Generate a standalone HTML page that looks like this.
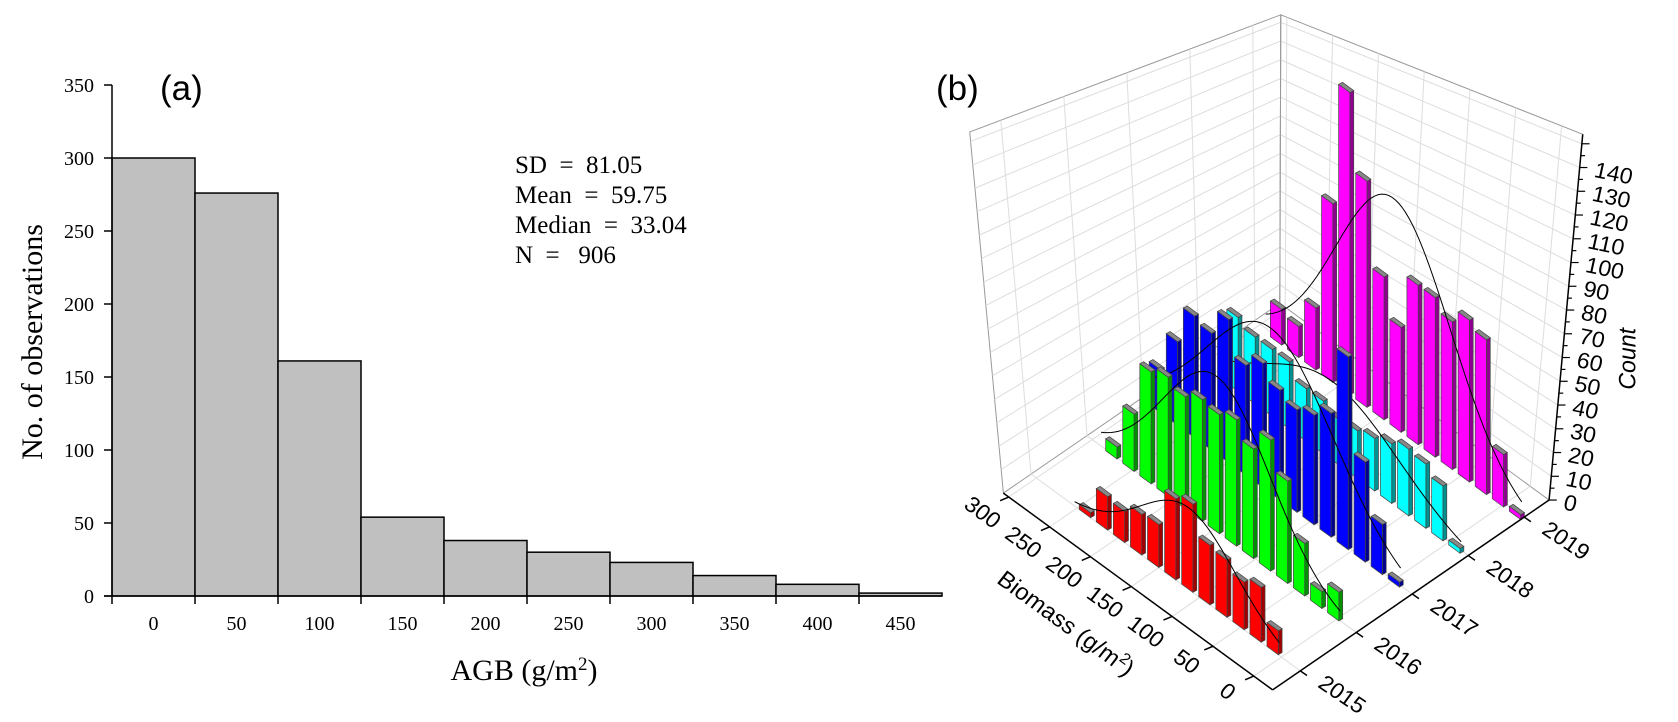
<!DOCTYPE html>
<html><head><meta charset="utf-8"><style>
html,body{margin:0;padding:0;background:#fff;}
svg{display:block;}
.ser{font-family:"Liberation Serif",serif;}
.sans{font-family:"Liberation Sans",sans-serif;}
</style></head><body>
<svg id="chart" width="1678" height="722" viewBox="0 0 1678 722" xmlns="http://www.w3.org/2000/svg">
<g id="pa"></g>
<g id="pb" transform="translate(900,0) scale(0.4808,0.463)"></g>
<text x="160" y="100" class="sans" font-size="35">(a)</text>
<text x="936" y="100" class="sans" font-size="35">(b)</text>
<text class="ser" font-size="30" transform="translate(42,342) rotate(-90)" text-anchor="middle">No. of  observations</text>
<text class="ser" font-size="30" x="524" y="680" text-anchor="middle">AGB (g/m<tspan baseline-shift="super" font-size="19">2</tspan>)</text>
<g class="ser" font-size="25">
<text x="515" y="173">SD &#160;= &#160;81.05</text>
<text x="515" y="203">Mean &#160;= &#160;59.75</text>
<text x="515" y="233">Median &#160;= &#160;33.04</text>
<text x="515" y="263">N &#160;= &#160; 906</text>
</g>
</svg>
<script>
// ---------- Panel (a) data ----------
const aglBins = [0,50,100,150,200,250,300,350,400,450];
const aglCounts = [300,276,161,54,38,30,23,14,8,2];
const aglYTicks = [0,50,100,150,200,250,300,350];

// ---------- Panel (b) data ----------
const bioBins = [290,270,250,230,210,190,170,150,130,110,90,70,50,30,10];
const years = ['2015','2016','2017','2018','2019'];
const cnt2015 = [0,0,0,2,14,13,17,18,34,37,25,24,20,23,10];
const cnt2016 = [0,5,24,47,50,47,51,50,53,46,55,43,22,7,12];
const cnt2017 = [18,35,51,49,60,46,52,46,43,46,52,81,42,21,2];
const cnt2018 = [0,31,28,28,28,22,22,19,20,22,25,28,27,23,2];
const cnt2019 = [15,13,26,75,127,95,60,44,67,67,62,68,65,22,2];
const bioTicks = [0,50,100,150,200,250,300];
const countTicks = [0,10,20,30,40,50,60,70,80,90,100,110,120,130,140];

const NS='http://www.w3.org/2000/svg';
function mk(parent,tag,attrs){const e=document.createElementNS(NS,tag);for(const k in attrs)e.setAttribute(k,attrs[k]);parent.appendChild(e);return e;}

// ---------- Panel (a) ----------
const pa=document.getElementById('pa');
const ax=v=>112+(v+25)*1.66;
const ay=c=>596-c*1.46;
aglBins.forEach((b,i)=>{
  const r=mk(pa,'rect',{x:ax(b-25),y:ay(aglCounts[i]),width:ax(b+25)-ax(b-25),height:596-ay(aglCounts[i]),fill:'#c0c0c0',stroke:'#000','stroke-width':1.5});
  
  
});
let l=mk(pa,'line',{x1:112,y1:ay(350),x2:112,y2:596,stroke:'#000','stroke-width':1.5});


l=mk(pa,'line',{x1:104,y1:596,x2:ax(475),y2:596,stroke:'#000','stroke-width':1.5});


aglYTicks.forEach(t=>{
  mk(pa,'line',{x1:104,y1:ay(t),x2:112,y2:ay(t),stroke:'#000','stroke-width':1.5});
  const tx=mk(pa,'text',{x:94,y:ay(t)+7,'text-anchor':'end','font-size':20,'font-family':'Liberation Serif, serif'});
  tx.textContent=t;
  
  
});
aglBins.forEach(b=>{
  mk(pa,'line',{x1:ax(b-25),y1:596,x2:ax(b-25),y2:604,stroke:'#000','stroke-width':1.5});
  const tx=mk(pa,'text',{x:ax(b),y:630,'text-anchor':'middle','font-size':20,'font-family':'Liberation Serif, serif'});
  tx.textContent=b;
  
  
});

// ---------- Panel (b) ----------
const pb=document.getElementById('pb');
const L=[215,1065],F=[775,1490],R=[1350,1080],TL=[145,285],TR=[1420,290],TB=[792,32];
const B=[L[0]+R[0]-F[0],L[1]+R[1]-F[1]];
const upL=[TL[0]-L[0],TL[1]-L[1]],upB=[TB[0]-B[0],TB[1]-B[1]],upR=[TR[0]-R[0],TR[1]-R[1]];
const CMAX=154;
const lerp=(a,b,t)=>[a[0]+(b[0]-a[0])*t,a[1]+(b[1]-a[1])*t];
function floorPt(s,t){return [L[0]+s*(F[0]-L[0])+t*(R[0]-F[0]),L[1]+s*(F[1]-L[1])+t*(R[1]-F[1])];}
function leftWall(t,c){const p=floorPt(0,t),u=lerp(upL,upB,t),h=c/CMAX;return [p[0]+u[0]*h,p[1]+u[1]*h];}
function rightWall(s,c){const p=floorPt(s,1),u=lerp(upB,upR,s),h=c/CMAX;return [p[0]+u[0]*h,p[1]+u[1]*h];}
const sOf=b=>0.02+(300-b)/300*0.91;
const tOf=i=>0.1+0.2025*i;
const pts=a=>a.map(p=>p[0].toFixed(1)+','+p[1].toFixed(1)).join(' ');
const NSS={'vector-effect':'non-scaling-stroke'};
function line(p,q,col,w,name){const e=mk(pb,'line',Object.assign({x1:p[0],y1:p[1],x2:q[0],y2:q[1],stroke:col,'stroke-width':w},NSS));
  
  return e;}

// walls
let w=mk(pb,'polygon',{points:pts([L,TL,TB,B]),fill:'#fff',stroke:'#999','stroke-width':1,'vector-effect':'non-scaling-stroke'});


w=mk(pb,'polygon',{points:pts([B,TB,TR,R]),fill:'#fff',stroke:'#999','stroke-width':1,'vector-effect':'non-scaling-stroke'});


for(let c=10;c<=150;c+=10){
  line(leftWall(0,c),leftWall(1,c),'#ddd',1,'wall-gridline');
  line(rightWall(0,c),rightWall(1,c),'#ddd',1,'wall-gridline');
}
years.forEach((y,i)=>{line(leftWall(tOf(i),0),leftWall(tOf(i),CMAX),'#ddd',1,'wall-gridline');
  line(floorPt(0,tOf(i)),floorPt(1,tOf(i)),'#ddd',1,'floor-gridline');});
bioTicks.forEach(b=>{line(rightWall(sOf(b),0),rightWall(sOf(b),CMAX),'#ddd',1,'wall-gridline');
  line(floorPt(sOf(b),0),floorPt(sOf(b),1),'#ddd',1,'floor-gridline');});
line(B,TB,'#999',1,'back-edge');

// bars
const series=[cnt2015,cnt2016,cnt2017,cnt2018,cnt2019];
const colors=['#ff0000','#00ff00','#0000ff','#00ffff','#ff00ff'];
const sides=['#a00000','#009000','#000090','#009090','#900090'];
const PXC=5.14, STEPV=[35.5,26.9], YV=[126,-73];
function base(b,yi){const k=(b-10)/20;return [775-k*STEPV[0]+yi*YV[0],1405-k*STEPV[1]+yi*YV[1]];}
for(let yi=4;yi>=0;yi--){
  const vals=series[yi];
  let bmin=1e9,bmax=-1e9;
  bioBins.forEach((b,j)=>{
    const v=vals[j]; if(v<=0) return;
    bmin=Math.min(bmin,b);bmax=Math.max(bmax,b);
    const c=base(b,yi), hw=[STEPV[0]*0.33,STEPV[1]*0.33], d=[8,-4.5], h=v*PXC;
    const b0=[c[0]-hw[0],c[1]-hw[1]],b1=[c[0]+hw[0],c[1]+hw[1]];
    const t0=[b0[0],b0[1]-h],t1=[b1[0],b1[1]-h];
    const g=mk(pb,'g',{});
    
    
    mk(g,'polygon',Object.assign({points:pts([b1,[b1[0]+d[0],b1[1]+d[1]],[t1[0]+d[0],t1[1]+d[1]],t1]),fill:sides[yi],stroke:'#444','stroke-width':0.7},NSS));
    mk(g,'polygon',Object.assign({points:pts([t0,t1,[t1[0]+d[0],t1[1]+d[1]],[t0[0]+d[0],t0[1]+d[1]]]),fill:'#888',stroke:'#444','stroke-width':0.7},NSS));
    mk(g,'polygon',Object.assign({points:pts([b0,b1,t1,t0]),fill:colors[yi],stroke:'#444','stroke-width':0.7},NSS));
  });
  // normal fit curve
  let n=0,m=0;bioBins.forEach((b,j)=>{n+=vals[j];m+=vals[j]*b;});m/=n;
  let vv=0;bioBins.forEach((b,j)=>{vv+=vals[j]*(b-m)*(b-m);});const sd=Math.sqrt(vv/n);
  const cp=[];
  for(let b=bmax+12;b>=bmin-8;b-=4){const f=n*20/(sd*Math.sqrt(2*Math.PI))*Math.exp(-0.5*((b-m)/sd)**2);const p=base(b,yi);cp.push([p[0],p[1]-f*PXC]);}
  const pl=mk(pb,'polyline',Object.assign({points:pts(cp),fill:'none',stroke:'#000','stroke-width':1},NSS));
  
  
}

// axes
line(L,F,'#000',1.5,'biomass-axis');
line(F,R,'#000',1.5,'year-axis');
line(R,TR,'#000',1.5,'count-axis');
bioTicks.forEach(b=>{
  const s=sOf(b),p=floorPt(s,0);
  line(p,[p[0]-18,p[1]+8],'#000',1.5,'biomass-tick');
  const tx=mk(pb,'text',{x:0,y:0,'font-size':48,'text-anchor':'middle','font-family':'Liberation Sans, sans-serif',transform:`translate(${p[0]-64},${p[1]+46}) rotate(37)`});
  tx.textContent=b;
  
  
});
years.forEach((y,i)=>{
  const p=floorPt(1,tOf(i));
  line(p,[p[0]+14,p[1]+10],'#000',1.5,'year-tick');
  const tx=mk(pb,'text',{x:0,y:0,'font-size':48,'text-anchor':'middle','font-family':'Liberation Sans, sans-serif',transform:`translate(${p[0]+78},${p[1]+64}) rotate(35)`});
  tx.textContent=y;
  
  
});
for(let c=0;c<=150;c+=5){
  const p=lerp(R,TR,c/CMAX);
  line(p,[p[0]+(c%10===0?16:9),p[1]],'#000',1.2,'count-tick');
}
countTicks.forEach(c=>{
  const p=lerp(R,TR,c/CMAX);
  const tx=mk(pb,'text',{x:0,y:0,'font-size':48,'font-family':'Liberation Sans, sans-serif',transform:`translate(${p[0]+28},${p[1]+20}) rotate(12)`});
  tx.textContent=c;
  
  
});
let tt=mk(pb,'text',{x:0,y:0,'font-size':50,'text-anchor':'middle','font-style':'italic','font-family':'Liberation Sans, sans-serif',transform:'translate(1530,775) rotate(-90)'});
tt.textContent='Count';


tt=mk(pb,'text',{x:0,y:0,'font-size':50,'text-anchor':'middle','font-family':'Liberation Sans, sans-serif',transform:'translate(335,1360) rotate(37)'});
tt.innerHTML='Biomass (g/m<tspan baseline-shift="super" font-size="34">2</tspan>)';


</script>
</body></html>
